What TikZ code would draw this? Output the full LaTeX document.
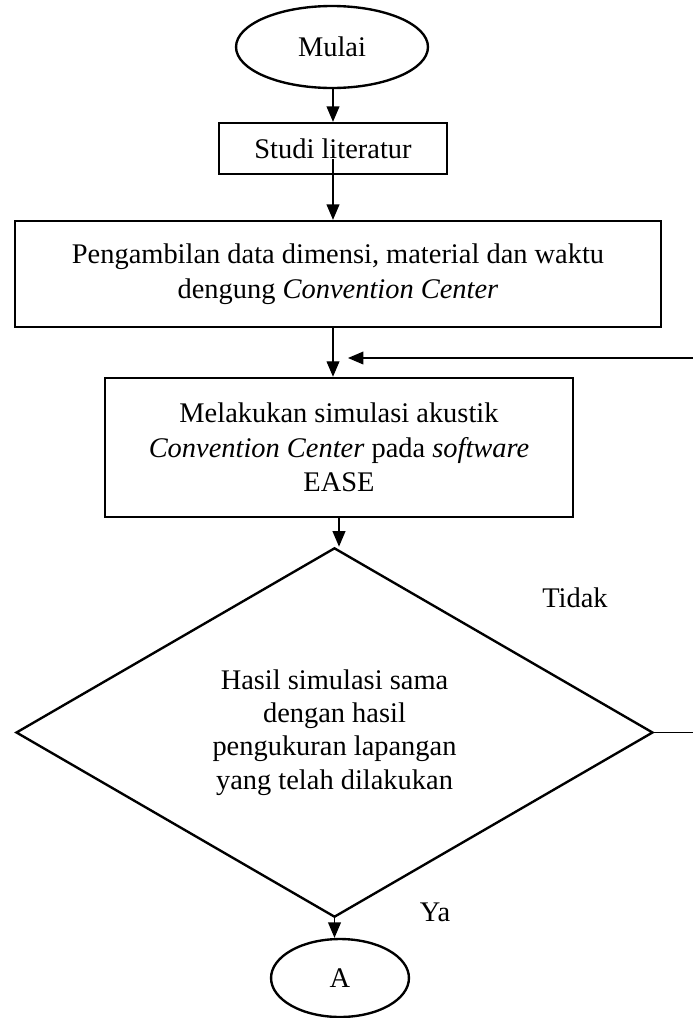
\documentclass[tikz,border=0pt]{standalone}
\usepackage{fontspec}
\setmainfont{Liberation Serif}
\usepackage{tikz}
\usetikzlibrary{shapes.geometric,arrows.meta,positioning}

\tikzset{
    base/.style={draw, line width=1pt, align=center, inner sep=0pt,
        font=\fontsize{12pt}{14.6pt}\selectfont},
    terminal/.style={base, ellipse},
    process/.style={base, rectangle},
    decision/.style={base, diamond, font=\fontsize{12pt}{14pt}\selectfont},
    flow/.style={line width=0.5pt, -{Triangle[length=6.5pt, width=5.4pt]}},
    link/.style={line width=0.5pt},
    answer/.style={font=\fontsize{12pt}{14pt}\selectfont}
}

\begin{document}
\begin{tikzpicture}[x=0.422pt, y=-0.422pt]
\useasboundingbox (0,0) rectangle (693,1018);

% Start and process steps
\node[terminal, minimum width=81pt, minimum height=34.6pt] (mulai) at (332,47) {Mulai};
\node[process, minimum width=96.2pt, minimum height=21.5pt] (studi) at (333,148.5) {Studi literatur};
\node[process, minimum width=272.6pt, minimum height=44.7pt] (ambil) at (338,274) {
    Pengambilan data dimensi, material dan waktu\\
    dengung \textit{Convention Center}
};
\node[process, minimum width=197.5pt, minimum height=58.7pt] (simul) at (339,447.5) {
    Melakukan simulasi akustik\\
    \textit{Convention Center} pada \textit{software}\\
    EASE
};

% Decision
\node[decision, minimum width=268.8pt, minimum height=138pt] (cek) at (334.5,732.5) {
    Hasil simulasi sama\\
    dengan hasil\\
    pengukuran lapangan\\
    yang telah dilakukan
};

% End connector
\node[terminal, minimum width=58.2pt, minimum height=32.9pt] (konektor) at (340,978) {A};

% Labels for the two answers
\node[answer] (tidak) at (575,598) {Tidak};
\node[answer] (ya) at (435,912) {Ya};

% Free ends of the loop back
\coordinate (balik) at (693,358);
\coordinate (balikujung) at (348,358);
\coordinate (tidakujung) at (693,732.5);

% Connectors
\draw[flow] (mulai.south -| studi) -- (studi.north);
\draw[flow] ([yshift=6.8pt]studi.south) -- (studi.south |- ambil.north);
\draw[flow] (studi.south |- ambil.south) -- (studi.south |- simul.north);
\draw[flow] (balik) -- (balikujung);
\draw[flow] (simul.south) -- (simul.south |- cek.north);
\draw[link] (cek.east) -- (tidakujung);
\draw[flow] (cek.south) -- (cek.south |- konektor.north);
\end{tikzpicture}
\end{document}
